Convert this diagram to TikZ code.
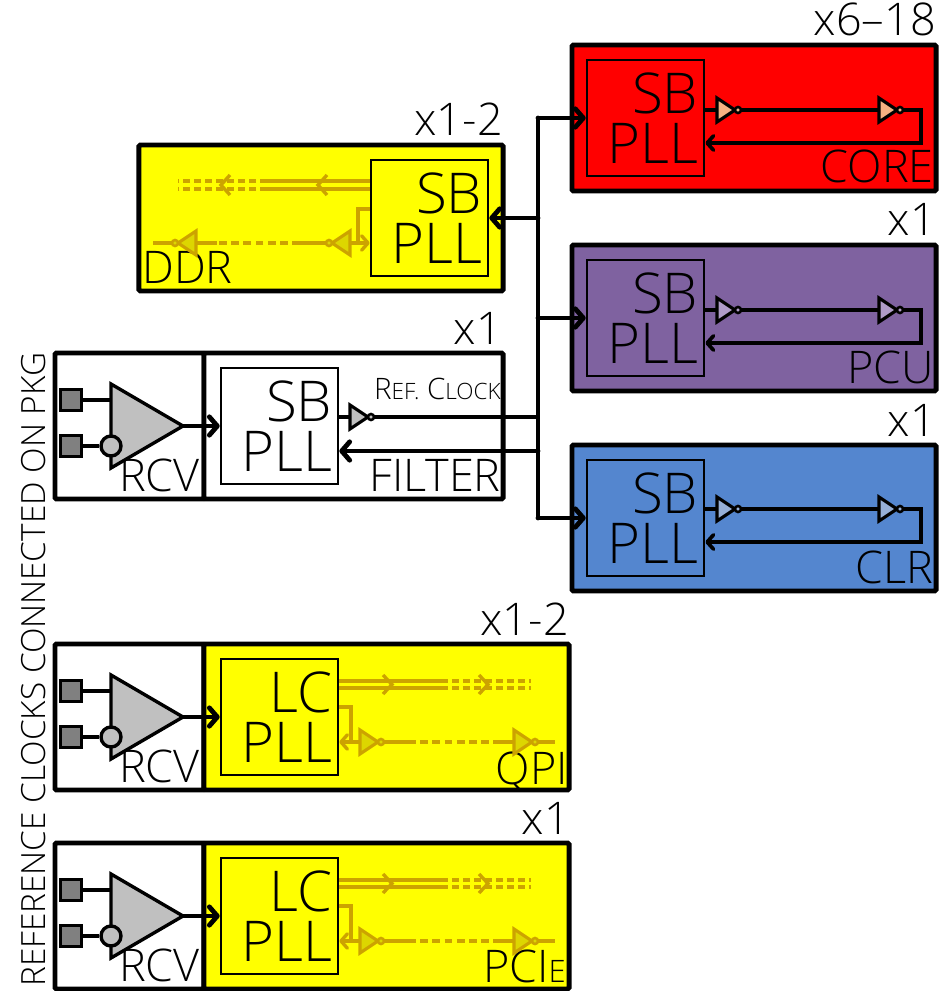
\documentclass[tikz,border=0pt]{standalone}
\usepackage{fontspec}
\setmainfont{Open Sans Light}
\usepackage{xcolor}
\usepackage{tikz}
\usetikzlibrary{arrows.meta,positioning,shapes.geometric}
\definecolor{corered}{RGB}{255,0,0}
\definecolor{pcupurple}{RGB}{127,98,160}
\definecolor{clrblue}{RGB}{84,134,207}
\definecolor{offyellow}{RGB}{255,255,0}
\definecolor{fadeline}{RGB}{204,163,0}
\definecolor{fadefill}{RGB}{221,214,0}
\definecolor{coreinv}{RGB}{244,177,131}
\definecolor{pcuinv}{RGB}{175,155,200}
\definecolor{clrinv}{RGB}{150,175,215}
\definecolor{ampgray}{RGB}{192,192,192}
\definecolor{padgray}{RGB}{128,128,128}

\begin{document}
\begin{tikzpicture}[
  x=0.025cm, y=-0.025cm,
  tile/.style={rectangle, draw=black, line width=3.5pt, rounded corners=1pt, minimum height=3.65cm, inner sep=0pt},
  pll/.style={rectangle, draw=black, line width=1.8pt, minimum width=2.925cm, minimum height=2.9cm, text width=2.625cm, inner xsep=0.15cm, inner ysep=0pt, align=right, font=\fontsize{40}{35.4}\selectfont},
  bigwire/.style={line width=3.4pt, line cap=round, line join=round},
  wire/.style={line width=2.6pt, line join=miter},
  fade/.style={line width=2.4pt, draw=fadeline},
  fadedash/.style={fade, dash pattern=on 5.5pt off 3.2pt},
  fadedots/.style={fade, dash pattern=on 5pt off 2.8pt},
  bigtip/.style={-{Straight Barb[length=2mm,width=4.6mm,round]}},
  tip/.style={-{Straight Barb[length=1.6mm,width=3.6mm,round]}},
  inv/.style={isosceles triangle, isosceles triangle stretches, draw=black, line width=2.2pt, inner sep=0pt, outer sep=0pt, minimum width=.6cm, minimum height=.45cm, anchor=apex},
  bubble/.style={circle, draw=black, line width=1.8pt, inner sep=0pt, outer sep=0pt, minimum size=.15cm},
  amp/.style={isosceles triangle, isosceles triangle stretches, draw=black, fill=ampgray, line width=2.4pt, inner sep=0pt, outer sep=0pt, minimum width=2.1cm, minimum height=1.8cm, anchor=apex},
  ampdot/.style={circle, draw=black, fill=ampgray, line width=2.4pt, inner sep=0pt, minimum size=.5cm},
  pad/.style={rectangle, draw=black, fill=padgray, line width=2pt, inner sep=0pt, minimum size=.52cm},
  lbl/.style={inner sep=0pt, anchor=base east, font=\fontsize{32}{34}\selectfont},
  mult/.style={inner sep=0pt, anchor=base east, font=\fontsize{32}{34}\selectfont}
]
\useasboundingbox (0,0) rectangle (948,991);

% side text
\node[inner sep=0pt, anchor=base west, rotate=90, font=\fontsize{23.7}{25}\selectfont] (refnote) at (45,987) {REFERENCE CLOCKS CONNECTED ON PKG};

% domain tiles
\node[tile, fill=corered, minimum width=9.1cm] (core) at (754,118) {};
\node[tile, fill=pcupurple, minimum width=9.1cm] (pcu) at (754,318) {};
\node[tile, fill=clrblue, minimum width=9.1cm] (clr) at (754,518) {};
\node[tile, fill=offyellow, minimum width=9.1cm] (ddr) at (321,218) {};
\node[tile, fill=white, minimum width=3.725cm] (filter_rcv) at (129.5,426) {};
\node[tile, fill=white, minimum width=7.475cm] (filter) at (353.5,426) {};
\node[tile, fill=white, minimum width=3.725cm] (qpi_rcv) at (129.5,717) {};
\node[tile, fill=offyellow, minimum width=9.125cm] (qpi) at (386.5,717) {};
\node[tile, fill=white, minimum width=3.725cm] (pcie_rcv) at (129.5,916) {};
\node[tile, fill=offyellow, minimum width=9.125cm] (pcie) at (386.5,916) {};

% PLLs
\node[pll] (core_pll) at (645.5,118) {SB\\PLL};
\node[pll] (pcu_pll) at (645.5,318) {SB\\PLL};
\node[pll] (clr_pll) at (645.5,518) {SB\\PLL};
\node[pll] (ddr_pll) at (429.5,218) {SB\\PLL};
\node[pll] (filter_pll) at (279.5,426) {SB\\PLL};
\node[pll] (qpi_pll) at (279.5,717) {LC\\PLL};
\node[pll] (pcie_pll) at (279.5,916) {LC\\PLL};

% labels
\node[mult] (core_mult) at (936,36) {x6--18};
\node[mult] (pcu_mult) at (936,236) {x1};
\node[mult] (clr_mult) at (936,436) {x1};
\node[mult] (ddr_mult) at (503,136) {x1-2};
\node[mult] (filter_mult) at (502,344) {x1};
\node[mult] (qpi_mult) at (569,635) {x1-2};
\node[mult] (pcie_mult) at (570,834) {x1};
\node[lbl] (core_lbl) at (934,183) {CORE};
\node[lbl] (pcu_lbl) at (934,383) {PCU};
\node[lbl] (clr_lbl) at (934,583) {CLR};
\node[lbl, anchor=base west] (ddr_lbl) at (142,283) {DDR};
\node[lbl] (filter_lbl) at (501,491) {FILTER};
\node[lbl] (qpi_lbl) at (568,784) {QPI};
\node[lbl] (pcie_lbl) at (566,982) {PCI{\fontsize{22}{24}\selectfont E}};
\node[lbl] (filter_rcv_lbl) at (200,491) {RCV};
\node[lbl] (qpi_rcv_lbl) at (200,782) {RCV};
\node[lbl] (pcie_rcv_lbl) at (200,981) {RCV};
\node[lbl, font=\fontsize{21}{23}\selectfont] (refclk_lbl) at (501,399) {R{\fontsize{16}{17}\selectfont EF.} C{\fontsize{16}{17}\selectfont LOCK}};

% receivers
\node[amp] (filter_amp) at (183,426) {};
\node[pad] (filter_pad1) at (71,400) {};
\node[pad] (filter_pad2) at (71,446) {};
\node[ampdot] (filter_dot) at (111,446) {};
\draw[wire] (filter_pad1.east) -- (filter_amp.west |- filter_pad1);
\draw[wire] (filter_pad2.east) -- (filter_dot.west);
\node[amp] (qpi_amp) at (183,717) {};
\node[pad] (qpi_pad1) at (71,691) {};
\node[pad] (qpi_pad2) at (71,737) {};
\node[ampdot] (qpi_dot) at (111,737) {};
\draw[wire] (qpi_pad1.east) -- (qpi_amp.west |- qpi_pad1);
\draw[wire] (qpi_pad2.east) -- (qpi_dot.west);
\node[amp] (pcie_amp) at (183,916) {};
\node[pad] (pcie_pad1) at (71,890) {};
\node[pad] (pcie_pad2) at (71,936) {};
\node[ampdot] (pcie_dot) at (111,936) {};
\draw[wire] (pcie_pad1.east) -- (pcie_amp.west |- pcie_pad1);
\draw[wire] (pcie_pad2.east) -- (pcie_dot.west);
\draw[bigwire, bigtip] (filter_amp.apex) -- (filter_pll.west |- filter_amp.apex);
\draw[bigwire, bigtip] (qpi_amp.apex) -- (qpi_pll.west |- qpi_amp.apex);
\draw[bigwire, bigtip] (pcie_amp.apex) -- (pcie_pll.west |- pcie_amp.apex);

% clock bus
\coordinate (bus_core) at (538,118);
\coordinate (bus_ddr) at (538,218);
\coordinate (bus_pcu) at (538,318);
\coordinate (bus_out) at (538,417);
\coordinate (bus_ret) at (538,451);
\coordinate (bus_clr) at (538,518);
\node[inv, fill=ampgray] (filter_inv) at (368,417) {};
\node[bubble, fill=ampgray, right=0pt of filter_inv.apex] (filter_bub) {};
\draw[wire] (filter_pll.east |- filter_inv.apex) -- (filter_inv.west);
\draw[bigwire, line cap=butt] (filter_bub.east) -- (bus_out);
\draw[bigwire, bigtip] (bus_ret) -- (filter_pll.east |- bus_ret);
\draw[bigwire, bigtip] (bus_clr) -- (clr_pll.west |- bus_clr);
\draw[bigwire, bigtip] (bus_pcu) -- (pcu_pll.west |- bus_pcu);
\draw[bigwire, bigtip] (bus_core) -- (core_pll.west |- bus_core);
\draw[bigwire, bigtip] (bus_ddr) -- (ddr_pll.east |- bus_ddr);
\draw[bigwire] (bus_core) -- (bus_clr);

% core loop
\coordinate (core_turn) at (921,143);
\node[inv, fill=coreinv] (core_inv1) at (735,110) {};
\node[bubble, fill=coreinv, right=0pt of core_inv1.apex] (core_bub1) {};
\node[inv, fill=coreinv] (core_inv2) at (897,110) {};
\node[bubble, fill=coreinv, right=0pt of core_inv2.apex] (core_bub2) {};
\draw[wire] (core_pll.east |- core_inv1.apex) -- (core_inv1.west);
\draw[wire] (core_bub1.east) -- (core_inv2.west);
\draw[wire, tip] (core_bub2.east) -| (core_turn) -- (core_pll.east |- core_turn);

% pcu loop
\coordinate (pcu_turn) at (921,343);
\node[inv, fill=pcuinv] (pcu_inv1) at (735,310) {};
\node[bubble, fill=pcuinv, right=0pt of pcu_inv1.apex] (pcu_bub1) {};
\node[inv, fill=pcuinv] (pcu_inv2) at (897,310) {};
\node[bubble, fill=pcuinv, right=0pt of pcu_inv2.apex] (pcu_bub2) {};
\draw[wire] (pcu_pll.east |- pcu_inv1.apex) -- (pcu_inv1.west);
\draw[wire] (pcu_bub1.east) -- (pcu_inv2.west);
\draw[wire, tip] (pcu_bub2.east) -| (pcu_turn) -- (pcu_pll.east |- pcu_turn);

% clr loop
\coordinate (clr_turn) at (921,542);
\node[inv, fill=clrinv] (clr_inv1) at (735,509) {};
\node[bubble, fill=clrinv, right=0pt of clr_inv1.apex] (clr_bub1) {};
\node[inv, fill=clrinv] (clr_inv2) at (897,509) {};
\node[bubble, fill=clrinv, right=0pt of clr_inv2.apex] (clr_bub2) {};
\draw[wire] (clr_pll.east |- clr_inv1.apex) -- (clr_inv1.west);
\draw[wire] (clr_bub1.east) -- (clr_inv2.west);
\draw[wire, tip] (clr_bub2.east) -| (clr_turn) -- (clr_pll.east |- clr_turn);

% ddr lines
\coordinate (ddr_up1) at (267,181);
\coordinate (ddr_up2) at (178,181);
\coordinate (ddr_lo1) at (267,189);
\coordinate (ddr_lo2) at (178,189);
\coordinate (ddr_fb) at (358,209);
\coordinate (ddr_tap) at (358,243);
\coordinate (ddr_sw1) at (300,243);
\coordinate (ddr_sw2) at (217,243);
\coordinate (ddr_end) at (153,243);
\draw[fade] (ddr_pll.west |- ddr_up1) -- (ddr_up1);
\draw[fade] (ddr_pll.west |- ddr_lo1) -- (ddr_lo1);
\draw[fadedots] (ddr_up1) -- (ddr_up2);
\draw[fadedots] (ddr_lo1) -- (ddr_lo2);
\draw[fade] (327,175) -- (318,185) -- (327,195);
\draw[fade] (230,175) -- (221,185) -- (230,195);
\draw[fade] (ddr_pll.west |- ddr_fb) -- (ddr_fb) -- (ddr_tap);
\node[inv, draw=fadeline, fill=fadefill, shape border rotate=180] (ddr_inv1) at (332,243) {};
\node[bubble, draw=fadeline, fill=fadefill, left=0pt of ddr_inv1.apex] (ddr_bub1) {};
\node[inv, draw=fadeline, fill=fadefill, shape border rotate=180] (ddr_inv2) at (178,243) {};
\node[bubble, draw=fadeline, fill=fadefill, left=0pt of ddr_inv2.apex] (ddr_bub2) {};
\draw[fade, tip] (ddr_inv1.east) -- (ddr_pll.west |- ddr_inv1.apex);
\draw[fade] (ddr_bub1.west) -- (ddr_sw1);
\draw[fadedash] (ddr_sw1) -- (ddr_sw2);
\draw[fade] (ddr_sw2) -- (ddr_inv2.east);
\draw[fade] (ddr_bub2.west) -- (ddr_end);

% qpi lines
\coordinate (qpi_up1) at (441,681);
\coordinate (qpi_up2) at (531,681);
\coordinate (qpi_lo1) at (441,688);
\coordinate (qpi_lo2) at (531,688);
\coordinate (qpi_fb) at (351,707);
\coordinate (qpi_tap) at (351,742);
\coordinate (qpi_sw1) at (408,742);
\coordinate (qpi_sw2) at (493,742);
\coordinate (qpi_end) at (555,742);
\draw[fade] (qpi_pll.east |- qpi_up1) -- (qpi_up1);
\draw[fade] (qpi_pll.east |- qpi_lo1) -- (qpi_lo1);
\draw[fadedots] (qpi_up1) -- (qpi_up2);
\draw[fadedots] (qpi_lo1) -- (qpi_lo2);
\draw[fade] (383,675) -- (392,684.5) -- (383,694);
\draw[fade] (479,675) -- (488,684.5) -- (479,694);
\draw[fade] (qpi_pll.east |- qpi_fb) -- (qpi_fb) -- (qpi_tap);
\node[inv, draw=fadeline, fill=fadefill] (qpi_inv1) at (378,742) {};
\node[bubble, draw=fadeline, fill=fadefill, right=0pt of qpi_inv1.apex] (qpi_bub1) {};
\node[inv, draw=fadeline, fill=fadefill] (qpi_inv2) at (532,742) {};
\node[bubble, draw=fadeline, fill=fadefill, right=0pt of qpi_inv2.apex] (qpi_bub2) {};
\draw[fade, tip] (qpi_inv1.west) -- (qpi_pll.east |- qpi_inv1.apex);
\draw[fade] (qpi_bub1.east) -- (qpi_sw1);
\draw[fadedash] (qpi_sw1) -- (qpi_sw2);
\draw[fade] (qpi_sw2) -- (qpi_inv2.west);
\draw[fade] (qpi_bub2.east) -- (qpi_end);

% pcie lines
\coordinate (pcie_up1) at (441,880);
\coordinate (pcie_up2) at (531,880);
\coordinate (pcie_lo1) at (441,887);
\coordinate (pcie_lo2) at (531,887);
\coordinate (pcie_fb) at (351,906);
\coordinate (pcie_tap) at (351,941);
\coordinate (pcie_sw1) at (408,941);
\coordinate (pcie_sw2) at (493,941);
\coordinate (pcie_end) at (555,941);
\draw[fade] (pcie_pll.east |- pcie_up1) -- (pcie_up1);
\draw[fade] (pcie_pll.east |- pcie_lo1) -- (pcie_lo1);
\draw[fadedots] (pcie_up1) -- (pcie_up2);
\draw[fadedots] (pcie_lo1) -- (pcie_lo2);
\draw[fade] (383,874) -- (392,883.5) -- (383,893);
\draw[fade] (479,874) -- (488,883.5) -- (479,893);
\draw[fade] (pcie_pll.east |- pcie_fb) -- (pcie_fb) -- (pcie_tap);
\node[inv, draw=fadeline, fill=fadefill] (pcie_inv1) at (378,941) {};
\node[bubble, draw=fadeline, fill=fadefill, right=0pt of pcie_inv1.apex] (pcie_bub1) {};
\node[inv, draw=fadeline, fill=fadefill] (pcie_inv2) at (532,941) {};
\node[bubble, draw=fadeline, fill=fadefill, right=0pt of pcie_inv2.apex] (pcie_bub2) {};
\draw[fade, tip] (pcie_inv1.west) -- (pcie_pll.east |- pcie_inv1.apex);
\draw[fade] (pcie_bub1.east) -- (pcie_sw1);
\draw[fadedash] (pcie_sw1) -- (pcie_sw2);
\draw[fade] (pcie_sw2) -- (pcie_inv2.west);
\draw[fade] (pcie_bub2.east) -- (pcie_end);
\end{tikzpicture}
\end{document}
